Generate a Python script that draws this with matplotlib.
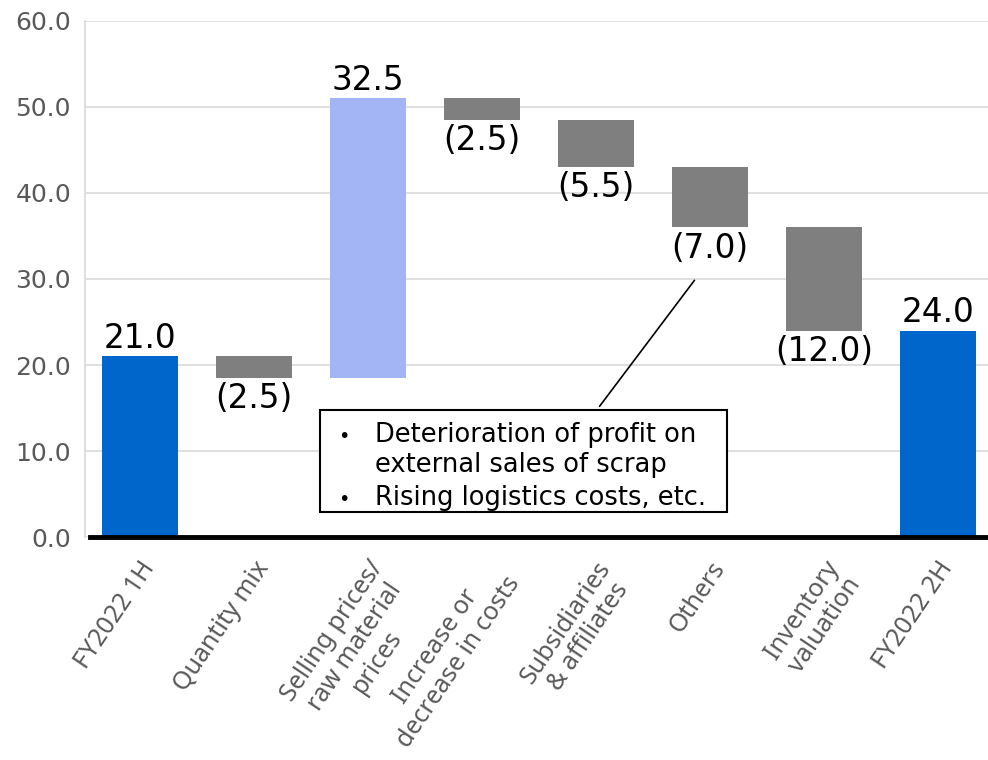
import numpy as np
import matplotlib.pyplot as plt
from matplotlib.patches import Rectangle

categories = ['FY2022 1H', 'Quantity mix', 'Selling prices/\nraw material\nprices',
              'Increase or\ndecrease in costs', 'Subsidiaries\n& affiliates', 'Others',
              'Inventory\nvaluation', 'FY2022 2H']
start_value = 21.0
changes = [-2.5, 32.5, -2.5, -5.5, -7.0, -12.0]
end_value = 24.0
note_lines = ['Deterioration of profit on', 'external sales of scrap',
              'Rising logistics costs, etc.']

BLUE = '#0066CC'
LIGHT = '#A4B5F5'
GRAY = '#7F7F7F'
TXT = '#595959'

# bottoms and heights of the floating bars
bottoms = [0.0]
heights = [start_value]
colors = [BLUE]
level = start_value
for c in changes:
    if c >= 0:
        bottoms.append(level)
    else:
        bottoms.append(level + c)
    heights.append(abs(c))
    colors.append(LIGHT if c >= 0 else GRAY)
    level += c
bottoms.append(0.0)
heights.append(end_value)
colors.append(BLUE)

x = np.arange(len(categories))

fig = plt.figure(figsize=(9.88, 7.6), dpi=100)
ax = fig.add_axes([0.086, 0.2934, 0.914, 0.679])

ax.bar(x, heights, bottom=bottoms, width=0.667, color=colors, zorder=3)

# value labels
vals = [start_value] + changes + [end_value]
for i, v in enumerate(vals):
    if v >= 0:
        ax.text(x[i], bottoms[i] + heights[i] + 0.2, f'{v:.1f}', ha='center', va='bottom',
                fontsize=23.5, color='black', zorder=4)
    else:
        ax.text(x[i], bottoms[i] - 0.5, f'({abs(v):.1f})', ha='center', va='top',
                fontsize=23.5, color='black', zorder=4)

ax.set_ylim(0, 60)
ax.set_xlim(-0.48, 7.44)
ax.set_yticks(np.arange(0, 61, 10))
ax.set_yticklabels([f'{t:.1f}' for t in np.arange(0, 61, 10)], fontsize=18, color=TXT)
ax.yaxis.grid(True, color='#D9D9D9', linewidth=1.2, zorder=0)
ax.tick_params(axis='y', length=0, pad=10)
ax.tick_params(axis='x', length=0, pad=14)

ax.set_xticks(x)
ax.set_xticklabels(categories, rotation=56, ha='right', rotation_mode='anchor',
                   multialignment='center', fontsize=18, color=TXT, family='Noto Sans',
                   linespacing=1.1)

for s in ['top', 'right', 'bottom']:
    ax.spines[s].set_visible(False)
ax.spines['left'].set_color('#D9D9D9')
ax.spines['left'].set_linewidth(1.2)
ax.axhline(0, xmin=0.006, xmax=1, color='black', linewidth=3.5, zorder=5, clip_on=False)

# note box for the cost items
box = Rectangle((0.260, 0.0485), 0.451, 0.1975, transform=ax.transAxes,
                facecolor='white', edgecolor='black', linewidth=1.5, zorder=6)
ax.add_patch(box)
line_y = [0.184, 0.126, 0.062]
for txt, yy in zip(note_lines, line_y):
    ax.text(0.321, yy, txt, transform=ax.transAxes, fontsize=18.5,
            va='baseline', zorder=7)
for yy in (line_y[0], line_y[2]):
    ax.text(0.280, yy, '•', transform=ax.transAxes, fontsize=14,
            va='baseline', zorder=7)

ax.annotate('', xy=(4.88, 30.1), xytext=(0.568, 0.249), textcoords='axes fraction',
            arrowprops=dict(arrowstyle='-', color='black', linewidth=1.2), zorder=6)

fig.savefig('out.png', dpi=100)
